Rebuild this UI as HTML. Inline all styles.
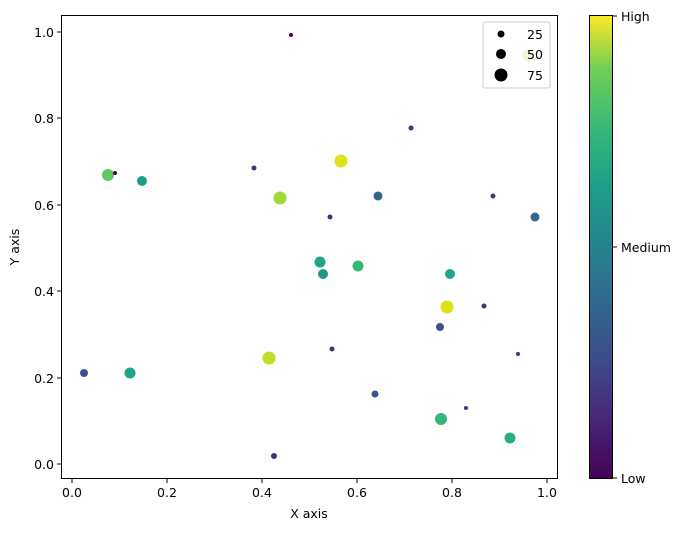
<!DOCTYPE html><html><head><style>body{margin:0;background:#fff}svg{font-family:"DejaVu Sans","Liberation Sans",sans-serif}</style></head><body>
<svg width="686" height="530" xmlns="http://www.w3.org/2000/svg">
<defs><linearGradient id="v" x1="0" y1="1" x2="0" y2="0">
<stop offset="0" stop-color="#440154"/><stop offset="0.13" stop-color="#482878"/><stop offset="0.25" stop-color="#3e4a89"/><stop offset="0.38" stop-color="#31688e"/><stop offset="0.5" stop-color="#26828e"/><stop offset="0.63" stop-color="#1f9e89"/><stop offset="0.75" stop-color="#35b779"/><stop offset="0.88" stop-color="#6ece58"/><stop offset="1" stop-color="#fde725"/></linearGradient></defs>
<g>
<circle cx="528" cy="55" r="6" fill="#a0da39"/>
<circle cx="291" cy="35" r="2" fill="#440154"/>
<circle cx="411" cy="128" r="2.5" fill="#46307e"/>
<circle cx="341" cy="161" r="6.5" fill="#dde318"/>
<circle cx="108" cy="175" r="6" fill="#5ec962"/>
<circle cx="115" cy="173" r="2" fill="#440154"/>
<circle cx="142" cy="181" r="5" fill="#1f9e89"/>
<circle cx="254" cy="168" r="2.5" fill="#46307e"/>
<circle cx="280" cy="198" r="6.5" fill="#a0da39"/>
<circle cx="378" cy="196" r="4.5" fill="#31688e"/>
<circle cx="493" cy="196" r="2.5" fill="#46307e"/>
<circle cx="330" cy="217" r="2.5" fill="#46307e"/>
<circle cx="535" cy="217" r="4.5" fill="#31688e"/>
<circle cx="320" cy="262" r="5.5" fill="#21a585"/>
<circle cx="323" cy="274" r="5" fill="#1f988b"/>
<circle cx="358" cy="266" r="5.5" fill="#35b779"/>
<circle cx="450" cy="274" r="5" fill="#25a18e"/>
<circle cx="447" cy="307" r="6.5" fill="#dde318"/>
<circle cx="484" cy="306" r="2.5" fill="#46307e"/>
<circle cx="440" cy="327" r="4" fill="#3b528b"/>
<circle cx="332" cy="349" r="2.5" fill="#46307e"/>
<circle cx="518" cy="354" r="2" fill="#46307e"/>
<circle cx="84" cy="373" r="4" fill="#3b528b"/>
<circle cx="130" cy="373" r="5.5" fill="#20a386"/>
<circle cx="269" cy="358" r="6.5" fill="#bddf26"/>
<circle cx="375" cy="394" r="3.5" fill="#3b528b"/>
<circle cx="441" cy="419" r="6" fill="#35b779"/>
<circle cx="466" cy="408" r="2" fill="#46307e"/>
<circle cx="510" cy="438" r="5.5" fill="#2ab07f"/>
<circle cx="274" cy="456" r="3" fill="#46307e"/>
</g>
<rect x="483" y="22" width="67" height="66" rx="2" fill="#fff" fill-opacity="0.8" stroke="#ccc"/>
<circle cx="501" cy="34" r="3.5"/><circle cx="501" cy="54" r="5"/><circle cx="501" cy="75" r="6.5"/>
<g font-size="12.5" fill="#000"><text x="527" y="39">25</text><text x="527" y="59">50</text><text x="527" y="80">75</text></g>
<rect x="61.5" y="15.5" width="496" height="463" fill="none" stroke="#000"/>
<g stroke="#000"><line x1="72" y1="479" x2="72" y2="483"/><line x1="167" y1="479" x2="167" y2="483"/><line x1="262" y1="479" x2="262" y2="483"/><line x1="357" y1="479" x2="357" y2="483"/><line x1="452" y1="479" x2="452" y2="483"/><line x1="547" y1="479" x2="547" y2="483"/>
<line x1="57" y1="464" x2="61" y2="464"/><line x1="57" y1="378" x2="61" y2="378"/><line x1="57" y1="291" x2="61" y2="291"/><line x1="57" y1="205" x2="61" y2="205"/><line x1="57" y1="118" x2="61" y2="118"/><line x1="57" y1="32" x2="61" y2="32"/></g>
<g font-size="12.5" text-anchor="middle"><text x="72" y="497">0.0</text><text x="167" y="497">0.2</text><text x="262" y="497">0.4</text><text x="357" y="497">0.6</text><text x="452" y="497">0.8</text><text x="547" y="497">1.0</text><text x="309" y="518">X axis</text></g>
<g font-size="12.5" text-anchor="end"><text x="54" y="469">0.0</text><text x="54" y="383">0.2</text><text x="54" y="296">0.4</text><text x="54" y="210">0.6</text><text x="54" y="123">0.8</text><text x="54" y="37">1.0</text></g>
<text font-size="12.5" transform="translate(19,247) rotate(-90)" text-anchor="middle">Y axis</text>
<rect x="589.5" y="15.5" width="23" height="463" fill="url(#v)" stroke="#000"/>
<g stroke="#000"><line x1="613" y1="16" x2="617" y2="16"/><line x1="613" y1="247" x2="617" y2="247"/><line x1="613" y1="478" x2="617" y2="478"/></g>
<g font-size="12.5"><text x="621" y="21">High</text><text x="621" y="252">Medium</text><text x="621" y="483">Low</text></g>
</svg></body></html>
